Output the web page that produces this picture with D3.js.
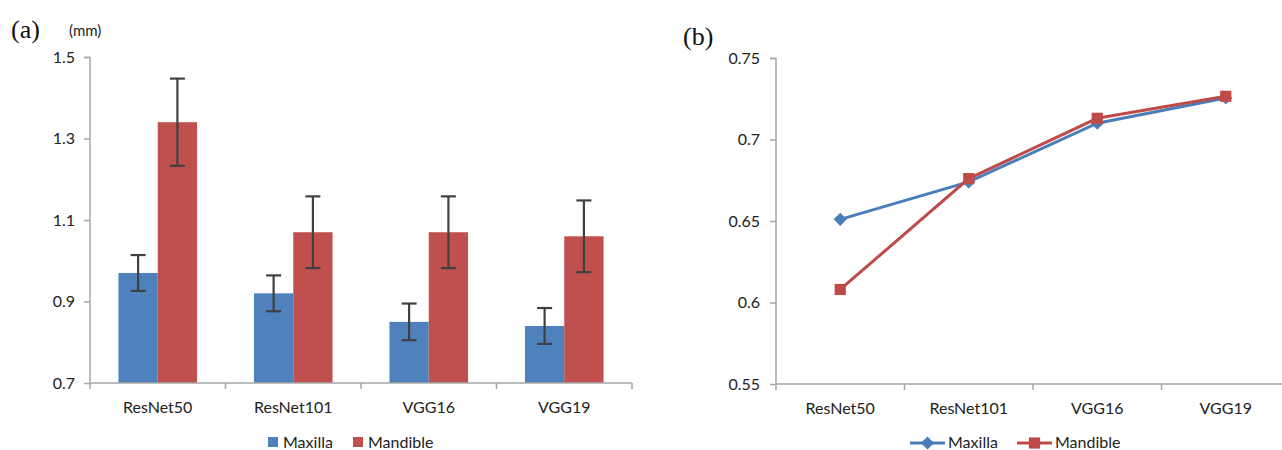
<!DOCTYPE html>
<html><head><meta charset="utf-8">
<script src="https://cdn.jsdelivr.net/npm/d3@7"></script>
<style>body{margin:0;background:#fff}svg{display:block}</style>
</head><body>
<svg id="c" width="1282" height="450"></svg>
<script>
const categories = ["ResNet50","ResNet101","VGG16","VGG19"];
const seriesNames = ["Maxilla","Mandible"];
const barMaxilla = [0.97,0.92,0.85,0.84];
const barMandible = [1.34,1.07,1.07,1.06];
const errMaxilla = [0.044,0.044,0.045,0.044];
const errMandible = [0.107,0.088,0.088,0.088];
const barTicks = [0.7,0.9,1.1,1.3,1.5];
const lineMaxilla = [0.651,0.674,0.710,0.7255];
const lineMandible = [0.608,0.676,0.713,0.7265];
const lineTicks = [0.55,0.6,0.65,0.7,0.75];
const colors = ["#4f81bd","#c0504d"];
const lineColors = ["#4a7ebb","#be4b48"];

const svg = d3.select("#c");
const font = "Lato, 'Open Sans', sans-serif";
const fs = 16;
const axisColor = "#a6a6a6";

// ---------- Panel (a) ----------
{
  const x = d3.scaleBand().domain(categories).range([90,632]).paddingInner(0.42).paddingOuter(0.21);
  const xs = d3.scaleBand().domain(seriesNames).range([0,x.bandwidth()]);
  const y = d3.scaleLinear().domain([0.7,1.5]).range([383,57]);
  const g = svg.append("g");
  const data = [barMaxilla, barMandible];
  const errs = [errMaxilla, errMandible];
  seriesNames.forEach((s,si)=>{
    g.selectAll(null).data(categories).enter().append("rect")
      .attr("x",c=>x(c)+xs(s)).attr("width",xs.bandwidth())
      .attr("y",(c,i)=>y(data[si][i])).attr("height",(c,i)=>y(0.7)-y(data[si][i]))
      .attr("fill",colors[si]);
  });
  seriesNames.forEach((s,si)=>{
    categories.forEach((c,i)=>{
      const cx = x(c)+xs(s)+xs.bandwidth()/2;
      const v = data[si][i], e = errs[si][i];
      const eg = g.append("g").attr("stroke","#404040").attr("stroke-width",2.2);
      eg.append("line").attr("x1",cx).attr("x2",cx).attr("y1",y(v+e)).attr("y2",y(v-e));
      [v+e,v-e].forEach(t=>eg.append("line").attr("x1",cx-7.5).attr("x2",cx+7.5).attr("y1",y(t)).attr("y2",y(t)));
    });
  });
  // y axis
  const ya = g.append("g").attr("transform","translate(90,0)")
    .call(d3.axisLeft(y).tickValues(barTicks).tickFormat(d3.format(".1f")).tickSize(6).tickPadding(9));
  ya.select(".domain").attr("stroke",axisColor).attr("stroke-width",1.5).attr("d","M-6,57.5H0V383");
  ya.selectAll(".tick line").attr("stroke",axisColor).attr("stroke-width",1.5);
  ya.selectAll(".tick text").attr("font-family",font).attr("font-size",fs).attr("fill","#222");
  // x axis
  const xl = d3.scaleLinear().domain([0,4]).range([90,632]);
  const xa = g.append("g").attr("transform","translate(0,383)");
  xa.append("line").attr("x1",90).attr("x2",632).attr("stroke",axisColor).attr("stroke-width",1.5);
  xa.selectAll(null).data(d3.range(5)).enter().append("line")
    .attr("x1",d=>xl(d)).attr("x2",d=>xl(d)).attr("y1",0).attr("y2",6).attr("stroke",axisColor).attr("stroke-width",1.5);
  xa.selectAll(null).data(categories).enter().append("text")
    .attr("x",c=>x(c)+x.bandwidth()/2).attr("y",30).attr("text-anchor","middle")
    .attr("font-family",font).attr("font-size",fs).attr("fill","#222").text(c=>c);
  // legend
  const lx = [268,353];
  seriesNames.forEach((s,si)=>{
    g.append("rect").attr("x",lx[si]).attr("y",437).attr("width",10).attr("height",10).attr("fill",colors[si]);
    g.append("text").attr("x",lx[si]+15).attr("y",448).attr("font-family",font).attr("font-size",fs).attr("fill","#222").text(s);
  });
  svg.append("text").attr("x",11).attr("y",38).attr("font-family","'Liberation Serif', 'DejaVu Serif', serif").attr("font-size",26).attr("fill","#111").text("(a)");
  svg.append("text").attr("x",69).attr("y",36).attr("font-family",font).attr("font-size",15).attr("fill","#222").text("(mm)");
}

// ---------- Panel (b) ----------
{
  const x = d3.scalePoint().domain(categories).range([776+64.25,776+514-64.25]);
  const y = d3.scaleLinear().domain([0.55,0.75]).range([384,58]);
  const g = svg.append("g");
  const ya = g.append("g").attr("transform","translate(776,0)")
    .call(d3.axisLeft(y).tickValues(lineTicks).tickFormat(d=>String(+d.toFixed(2))).tickSize(6).tickPadding(10));
  ya.select(".domain").attr("stroke",axisColor).attr("stroke-width",1.5).attr("d","M-6,58.5H0V384");
  ya.selectAll(".tick line").attr("stroke",axisColor).attr("stroke-width",1.5);
  ya.selectAll(".tick text").attr("font-family",font).attr("font-size",fs).attr("fill","#222");
  const xl = d3.scaleLinear().domain([0,4]).range([776,1290]);
  const xa = g.append("g").attr("transform","translate(0,384)");
  xa.append("line").attr("x1",776).attr("x2",1290).attr("stroke",axisColor).attr("stroke-width",1.5);
  xa.selectAll(null).data(d3.range(4)).enter().append("line")
    .attr("x1",d=>xl(d)).attr("x2",d=>xl(d)).attr("y1",0).attr("y2",6).attr("stroke",axisColor).attr("stroke-width",1.5);
  xa.selectAll(null).data(categories).enter().append("text")
    .attr("x",c=>x(c)).attr("y",30).attr("text-anchor","middle")
    .attr("font-family",font).attr("font-size",fs).attr("fill","#222").text(c=>c);

  const line = d3.line().x((d,i)=>x(categories[i])).y(d=>y(d));
  const vals = [lineMaxilla, lineMandible];
  const diamond = d3.symbol().type(d3.symbolDiamond2).size(110);
  const square = d3.symbol().type(d3.symbolSquare2).size(160);
  vals.forEach((v,si)=>{
    g.append("path").attr("d",line(v)).attr("fill","none").attr("stroke",lineColors[si]).attr("stroke-width",3);
    g.selectAll(null).data(v).enter().append("path")
      .attr("transform",(d,i)=>`translate(${x(categories[i])},${y(d)})`)
      .attr("d", si===0 ? diamond() : square())
      .attr("fill",lineColors[si]);
  });
  // legend
  const lx = [910,1017];
  seriesNames.forEach((s,si)=>{
    g.append("line").attr("x1",lx[si]).attr("x2",lx[si]+35).attr("y1",443).attr("y2",443).attr("stroke",lineColors[si]).attr("stroke-width",3);
    g.append("path").attr("transform",`translate(${lx[si]+17.5},443)`).attr("d", si===0 ? diamond() : square()).attr("fill",lineColors[si]);
    g.append("text").attr("x",lx[si]+38).attr("y",448).attr("font-family",font).attr("font-size",fs).attr("fill","#222").text(s);
  });
  svg.append("text").attr("x",683).attr("y",45).attr("font-family","'Liberation Serif', 'DejaVu Serif', serif").attr("font-size",26).attr("fill","#111").text("(b)");
}
</script>
</body></html>
